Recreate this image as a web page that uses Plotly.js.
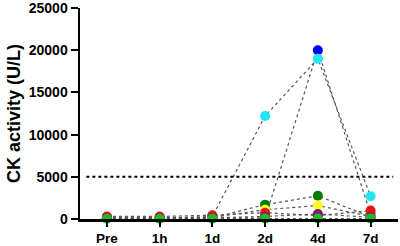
<!DOCTYPE html>
<html>
<head>
<meta charset="utf-8">
<script src="https://cdn.plot.ly/plotly-3.0.1.min.js"></script>
<style>html,body{margin:0;padding:0;background:#fff;}#chart{width:400px;height:246px;}</style>
</head>
<body>
<div id="chart"></div>
<script>
var timepoints = ["Pre", "1h", "1d", "2d", "4d", "7d"];
var threshold = 5000;
var yTicks = [0, 5000, 10000, 15000, 20000, 25000];
var blueVals      = [100, 100, 200, 100, 20000, 600];
var cyanVals      = [100, 100, 300, 12200, 19000, 2700];
var darkGreenVals = [80, 80, 150, 1700, 2750, 250];
var yellowVals    = [90, 90, 200, 1100, 1600, 300];
var redVals       = [300, 300, 450, 750, 400, 1000];
var purpleVals    = [100, 100, 150, 300, 600, 200];
var greenVals     = [30, 30, 40, 50, 60, 50];

var series = [
  {name: "S1", y: blueVals, color: "#0000ee"},
  {name: "S2", y: cyanVals, color: "#22e6f5"},
  {name: "S3", y: darkGreenVals, color: "#0a7a0a"},
  {name: "S4", y: yellowVals, color: "#ffff22"},
  {name: "S5", y: redVals, color: "#ee1111"},
  {name: "S6", y: purpleVals, color: "#7a1a7a"},
  {name: "S7", y: greenVals, color: "#1ebd1e"}
];

var traces = [];
series.forEach(function(s){
  traces.push({x: timepoints, y: s.y, type: "scatter", mode: "lines",
    line: {color: "#555", width: 1.2, dash: "dot"}, showlegend: false, hoverinfo: "skip", cliponaxis: false});
});
series.forEach(function(s){
  traces.push({x: timepoints, y: s.y, type: "scatter", mode: "markers", name: s.name,
    marker: {color: s.color, size: 10}, showlegend: false, cliponaxis: false});
});

var font = {family: "Arial, 'Liberation Sans', sans-serif", color: "#000", weight: "bold"};

var layout = {
  width: 400, height: 246,
  margin: {l: 80, r: 2, t: 8, b: 27},
  paper_bgcolor: "#fff", plot_bgcolor: "#fff",
  showlegend: false,
  xaxis: {
    type: "category", range: [-0.51, 5.52],
    showline: true, linecolor: "#000", linewidth: 2.5,
    ticks: "outside", ticklen: 5, tickwidth: 2, tickcolor: "#000",
    showgrid: false, zeroline: false,
    tickfont: Object.assign({size: 13.5}, font)
  },
  yaxis: {
    range: [0, 25000], tickvals: yTicks, ticktext: yTicks.map(String),
    ticklabeloverflow: "allow",
    showline: true, linecolor: "#000", linewidth: 2.5,
    ticks: "outside", ticklen: 7, tickwidth: 2, tickcolor: "#000",
    showgrid: false, zeroline: false,
    tickfont: Object.assign({size: 14}, font),
    title: {text: "CK activity (U/L)", font: Object.assign({size: 18}, font), standoff: 4}
  },
  shapes: [{
    type: "line", xref: "paper", yref: "y", x0: 0.02, x1: 0.985, y0: threshold, y1: threshold,
    line: {color: "#000", width: 2, dash: "dot"}
  }]
};

Plotly.newPlot("chart", traces, layout, {displayModeBar: false, staticPlot: true});
</script>
</body>
</html>
